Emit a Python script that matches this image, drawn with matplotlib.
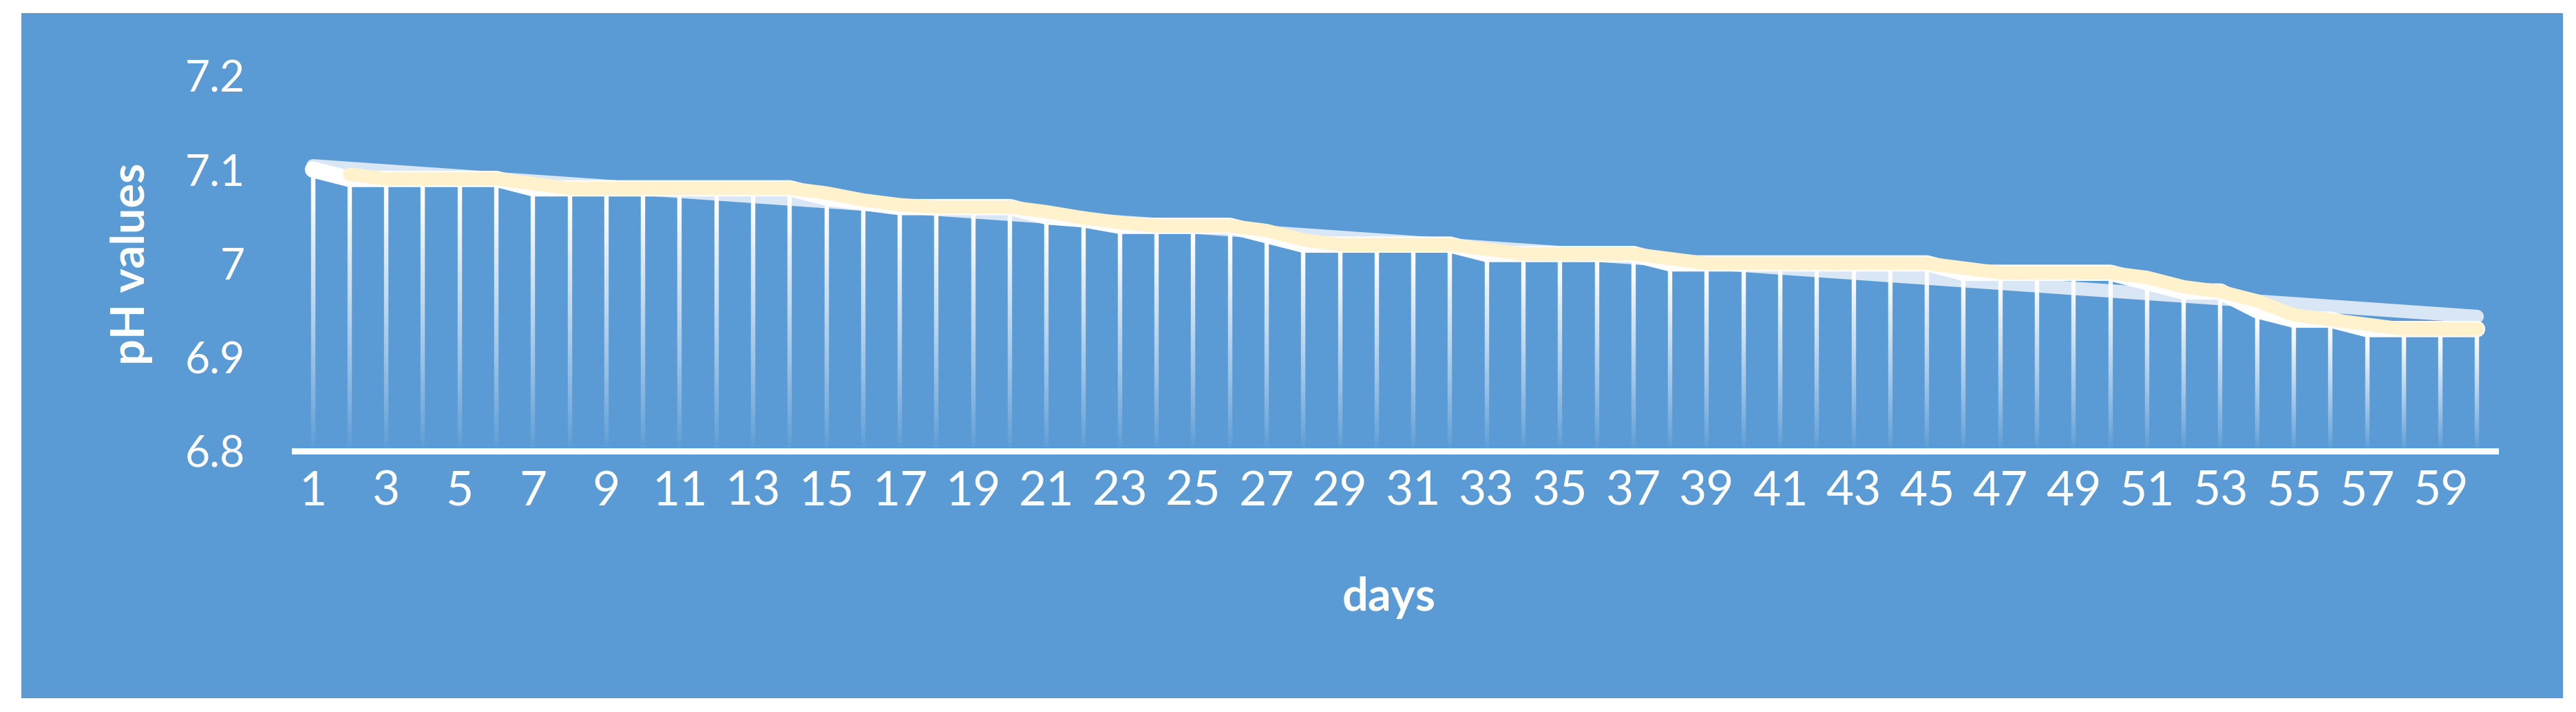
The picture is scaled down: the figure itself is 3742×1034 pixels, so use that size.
import numpy as np
import matplotlib
matplotlib.use("Agg")
import matplotlib.pyplot as plt
from matplotlib.patches import Rectangle
from matplotlib.collections import LineCollection

# pH readings per day
days = np.arange(1, 61)
ph = [7.10,
      7.09, 7.09, 7.09, 7.09, 7.09,
      7.08, 7.08, 7.08, 7.08, 7.08, 7.08, 7.08, 7.08,
      7.07, 7.065,
      7.06, 7.06, 7.06, 7.06,
      7.05, 7.047,
      7.04, 7.04, 7.04, 7.04,
      7.03,
      7.02, 7.02, 7.02, 7.02, 7.02,
      7.01, 7.01, 7.01, 7.01, 7.01,
      7.00, 7.00, 7.00, 7.00, 7.00, 7.00, 7.00, 7.00,
      6.99, 6.99, 6.99, 6.99, 6.99,
      6.98,
      6.97, 6.97,
      6.95,
      6.94, 6.94,
      6.93, 6.93, 6.93, 6.93]
y_ticks = [6.8, 6.9, 7.0, 7.1, 7.2]
y_labels = ["6.8", "6.9", "7", "7.1", "7.2"]

ph = np.array(ph)
y0 = 6.8

BG = "#5b9bd5"
YELLOW = "#fff2cc"
TREND = "#d8e6f5"
NARROW = ["Liberation Sans Narrow", "DejaVu Sans Condensed", "Lato"]

W, H = 3742, 1034
fig = plt.figure(figsize=(W / 100, H / 100), dpi=100)
fig.patch.set_facecolor("white")
fig.patches.append(Rectangle((31 / W, 1 - 1014 / H), (3723 - 31) / W, (1014 - 19) / H,
                             transform=fig.transFigure, facecolor=BG, edgecolor="none", zorder=-5))

ax = fig.add_axes([428 / W, 1 - 655 / H, (3625 - 428) / W, (655 - 110) / H])
ax.set_facecolor("none")

# linear trend
k, b = np.polyfit(days, ph, 1)
ax.plot(days, k * days + b, color=TREND, lw=14, solid_capstyle="round", zorder=2)

# drop lines with a white -> transparent fade
segs, cols = [], []
for d, v in zip(days, ph):
    ys = np.linspace(y0, v, 60)
    for a, c in zip(ys[:-1], ys[1:]):
        segs.append([(d, a), (d, c)])
        t = ((a + c) / 2 - y0) / (v - y0)
        cols.append((1, 1, 1, min(1.0, t ** 0.9 * 1.05)))
ax.add_collection(LineCollection(segs, colors=cols, linewidths=4.6, capstyle="butt", zorder=3))

# data line
ax.plot(days, ph, color="white", lw=17, solid_capstyle="round", solid_joinstyle="round", zorder=4)

# 2-period moving average
ma = (ph[1:] + ph[:-1]) / 2
ax.plot(days[1:], ma, color=YELLOW, lw=14, solid_capstyle="round", solid_joinstyle="round", zorder=5)

ax.set_xlim(0.5, 60.5)
ax.set_ylim(6.8, 7.2)
for s in ["top", "right", "left"]:
    ax.spines[s].set_visible(False)
ax.spines["bottom"].set_color("white")
ax.spines["bottom"].set_linewidth(6.5)
ax.spines["bottom"].set_zorder(6)

ax.set_xticks(days[::2])
ax.set_xticklabels([str(d) for d in days[::2]], fontsize=50, color="white", family=NARROW)
ax.set_yticks(y_ticks)
ax.set_yticklabels(y_labels, fontsize=45, color="white", family=NARROW)
ax.tick_params(axis="x", length=0, pad=20)
ax.tick_params(axis="y", length=0, pad=52)

fig.text(191 / W, 1 - 383 / H, "pH values", rotation=90, ha="center", va="center",
         fontsize=48, fontweight="bold", color="white", family="Lato")
fig.text(2018 / W, 1 - 868 / H, "days", ha="center", va="center",
         fontsize=48, fontweight="bold", color="white", family="Lato")

fig.savefig("out.png", dpi=100, facecolor=fig.get_facecolor())
